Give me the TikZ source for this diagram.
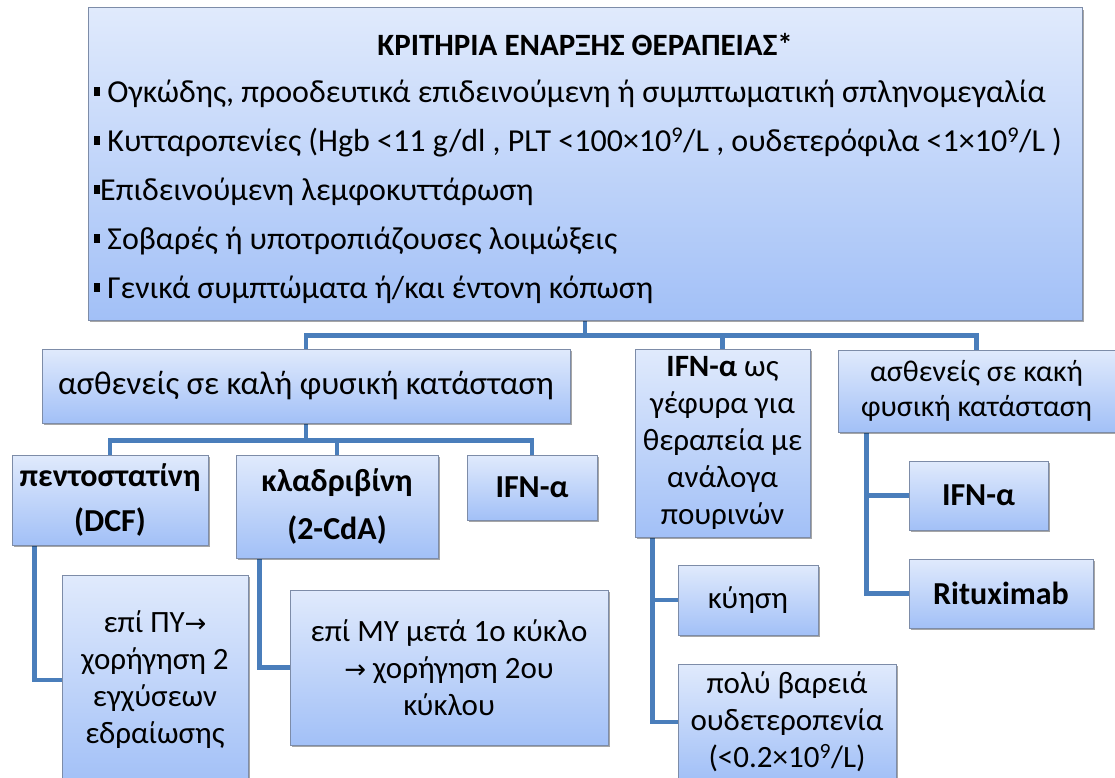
\documentclass[tikz,border=0pt]{standalone}
\usepackage{fontspec}
\setmainfont{Carlito}
\newfontfamily\symfont{DejaVu Sans}
\usepackage{xcolor}
\usepackage{tikz}
\usetikzlibrary{shadows, backgrounds}

\definecolor{boxtop}{RGB}{224,234,252}
\definecolor{boxbot}{RGB}{162,192,247}
\definecolor{boxline}{RGB}{125,140,168}
\definecolor{linkblue}{RGB}{74,126,187}

\newcommand{\blt}{\rule[7pt]{6pt}{9pt}}
\newcommand{\arr}{{\symfont\fontsize{26}{37}\selectfont →}}

\tikzset{
  box/.style={draw=boxline, line width=1pt, top color=boxtop, bottom color=boxbot,
    align=center, inner sep=0pt, font=\fontsize{31}{37}\selectfont,
    drop shadow={shadow xshift=2pt, shadow yshift=-2pt, fill=black, opacity=0.35}},
  boldbox/.style={box, font=\fontsize{32}{37}\selectfont\bfseries},
  conn/.style={draw=linkblue, line width=4.5pt}
}

\begin{document}
\begin{tikzpicture}[x=1pt, y=-1pt]
                \useasboundingbox (0,0) rectangle (1115,778);
                % Criteria
                \node[box, minimum width=994, minimum height=312] (top) at (585,164) {};
                \node[font=\fontsize{31}{37}\selectfont\bfseries] (title) at (585,45) {ΚΡΙΤΗΡΙΑ ΕΝΑΡΞΗΣ ΘΕΡΑΠΕΙΑΣ*};
                \node[anchor=west, align=left, inner sep=0pt, font=\fontsize{32}{49}\selectfont] (crit) at (94,192) {%
                  \blt\ Ογκώδης, προοδευτικά επιδεινούμενη ή συμπτωματική σπληνομεγαλία\\
                  \blt\ Κυτταροπενίες (Hgb <11 g/dl , PLT <100×10\textsuperscript{9}/L , ουδετερόφιλα <1×10\textsuperscript{9}/L )\\
                  \blt Επιδεινούμενη λεμφοκυττάρωση\\
                  \blt\ Σοβαρές ή υποτροπιάζουσες λοιμώξεις\\
                  \blt\ Γενικά συμπτώματα ή/και έντονη κόπωση};
                % Groups of patients
                \node[box, minimum width=528, minimum height=74, font=\fontsize{33}{37}\selectfont] (good) at (306,386) {ασθενείς σε καλή φυσική κατάσταση};
                \node[box, minimum width=175, minimum height=188] (bridge) at (722.5,443) {\textbf{IFN-α} ως\\γέφυρα για\\θεραπεία με\\ανάλογα\\πουρινών};
                \node[box, minimum width=277, minimum height=82, font=\fontsize{30}{35}\selectfont] (bad) at (976.5,391) {ασθενείς σε κακή\\φυσική κατάσταση};
                % Good condition
                \node[boldbox, minimum width=196, minimum height=90] (pento) at (110,500) {πεντοστατίνη\\[8pt](DCF)};
                \node[boldbox, minimum width=202, minimum height=103] (kladri) at (337,506.5) {κλαδριβίνη\\[11pt](2-CdA)};
                \node[boldbox, minimum width=130, minimum height=65] (ifnA) at (532,487.5) {IFN-α};
                \node[box, minimum width=186, minimum height=210] (pentoC) at (155,680) {επί ΠΥ\arr\\χορήγηση 2\\εγχύσεων\\εδραίωσης};
                \node[box, minimum width=318, minimum height=155] (kladriC) at (449,667.5) {επί ΜΥ μετά 1ο κύκλο\\\arr\ χορήγηση 2ου\\κύκλου};
                % Bridge
                \node[box, minimum width=140, minimum height=70] (kyisi) at (748,600) {κύηση};
                \node[box, minimum width=218, minimum height=116] (neutro) at (787,722) {πολύ βαρειά\\ουδετεροπενία\\(<0.2×10\textsuperscript{9}/L)};
                % Bad condition
                \node[boldbox, minimum width=139, minimum height=69] (ifnB) at (978.5,495.5) {IFN-α};
                \node[boldbox, minimum width=184, minimum height=69] (ritux) at (1001,593.5) {Rituximab};
                % Connectors
                \begin{scope}[on background layer]
                \draw[conn] (top.south) -- ++(0,15) coordinate (busA) -| (good.north);
                \draw[conn] (busA) -| (bridge.north);
                \draw[conn] (busA) -| (bad.north);
                \draw[conn] (good.south) -- ++(0,17) coordinate (busB) -| (pento.north);
                \draw[conn] (busB) -| (kladri.north);
                \draw[conn] (busB) -| (ifnA.north);
                \draw[conn] ([xshift=23pt]pento.south west) |- (pentoC.west);
                \draw[conn] ([xshift=24pt]kladri.south west) |- (kladriC.west);
                \draw[conn] ([xshift=18pt]bridge.south west) |- (kyisi.west);
                \draw[conn] ([xshift=18pt]bridge.south west) |- (neutro.west);
                \draw[conn] ([xshift=29pt]bad.south west) |- (ifnB.west);
                \draw[conn] ([xshift=29pt]bad.south west) |- (ritux.west);
                \end{scope}
\end{tikzpicture}
\end{document}
